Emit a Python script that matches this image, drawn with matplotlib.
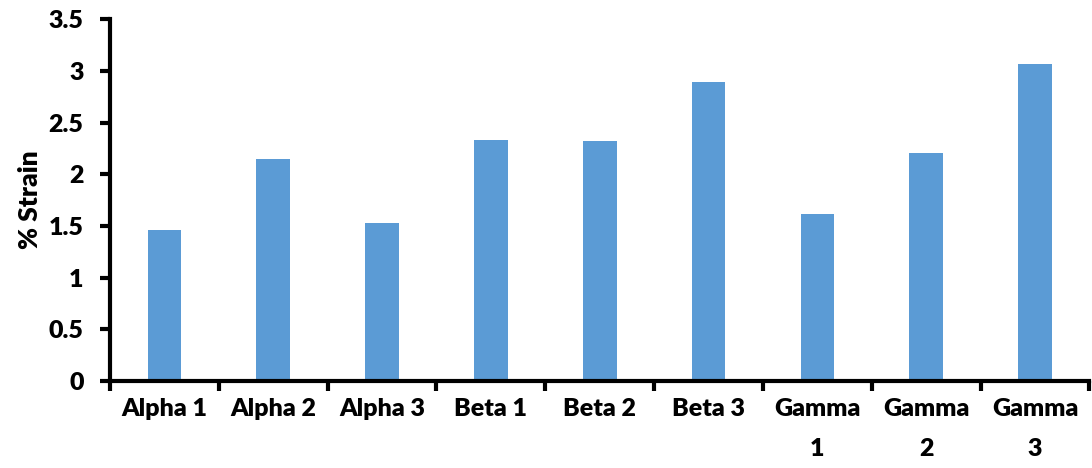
import numpy as np
import matplotlib
matplotlib.use("Agg")
import matplotlib.pyplot as plt
from matplotlib.ticker import FixedLocator

labels = ["Alpha 1", "Alpha 2", "Alpha 3", "Beta 1", "Beta 2", "Beta 3",
          "Gamma\n1", "Gamma\n2", "Gamma\n3"]
strain = [1.46, 2.15, 1.53, 2.33, 2.32, 2.89, 1.62, 2.21, 3.07]
yticks = [0, 0.5, 1, 1.5, 2, 2.5, 3, 3.5]
ytick_labels = ["0", "0.5", "1", "1.5", "2", "2.5", "3", "3.5"]

plt.rcParams['font.family'] = ['Lato', 'DejaVu Sans']

fig = plt.figure(figsize=(10.92, 4.68), dpi=100)
ax = fig.add_axes([0.1007, 0.186, 0.897, 0.773])

x = np.arange(len(labels))
ax.bar(x, strain, width=0.31, color="#5B9BD5")

ax.set_xlim(-0.5, len(labels) - 0.5)
ax.set_ylim(0, 3.5)
ax.set_yticks(yticks)
ax.set_yticklabels(ytick_labels, fontsize=18, fontweight="heavy")
ax.set_xticks(x)
ax.set_xticklabels(labels, fontsize=18, fontweight="heavy", linespacing=2.0, va="top")
ax.tick_params(axis="x", which="major", length=0, pad=12)
ax.xaxis.set_minor_locator(FixedLocator(np.arange(len(labels) + 1) - 0.5))
ax.tick_params(axis="x", which="minor", length=7, width=3, direction="out")
ax.tick_params(axis="y", length=7, width=3, direction="out", pad=12)

for s in ["top", "right"]:
    ax.spines[s].set_visible(False)
for s in ["left", "bottom"]:
    ax.spines[s].set_linewidth(3)

ax.set_ylabel("% Strain", fontsize=19, fontweight="heavy", labelpad=5)

fig.savefig("out.png", dpi=100)
